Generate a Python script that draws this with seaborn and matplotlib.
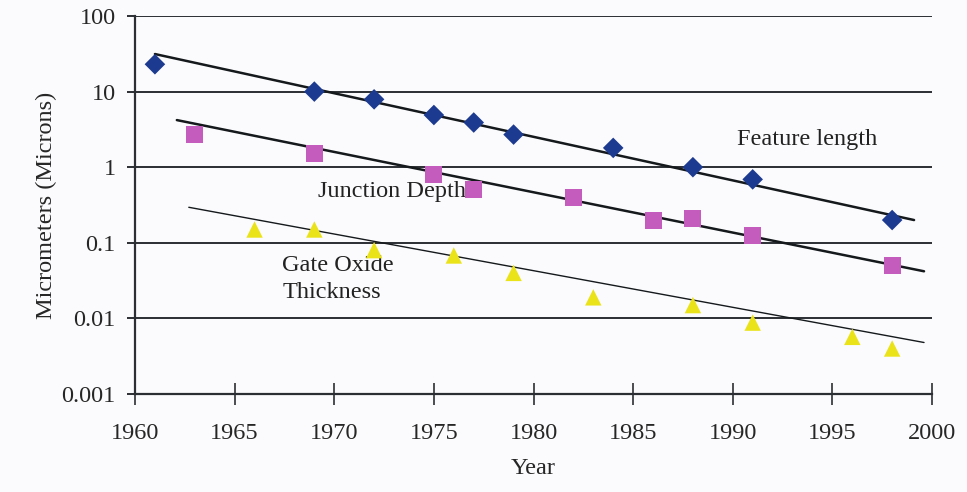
import numpy as np
import pandas as pd
import matplotlib
matplotlib.use("Agg")
import matplotlib.pyplot as plt
import seaborn as sns

# ---- data ----
feat_years = [1961, 1969, 1972, 1975, 1977, 1979, 1984, 1988, 1991, 1998]
feat_vals = [23, 10, 7.9, 4.9, 3.9, 2.7, 1.8, 1.0, 0.69, 0.2]

junc_years = [1963, 1969, 1975, 1977, 1982, 1986, 1988, 1991, 1998]
junc_vals = [2.7, 1.5, 0.8, 0.5, 0.4, 0.2, 0.21, 0.125, 0.05]

gate_years = [1966, 1969, 1972, 1976, 1979, 1983, 1988, 1991, 1996, 1998]
gate_vals = [0.15, 0.15, 0.08, 0.068, 0.04, 0.019, 0.015, 0.0088, 0.0057, 0.004]

# trend line endpoints (year, value)
feat_trend_years = [1961, 1999.1]
feat_trend_vals = [31.4, 0.2]
junc_trend_years = [1962.1, 1999.6]
junc_trend_vals = [4.2, 0.042]
gate_trend_years = [1962.7, 1999.6]
gate_trend_vals = [0.295, 0.0048]

x_ticks = [1960, 1965, 1970, 1975, 1980, 1985, 1990, 1995, 2000]
y_ticks = [0.001, 0.01, 0.1, 1, 10, 100]
y_tick_labels = ["0.001", "0.01", "0.1", "1", "10", "100"]

sns.set_theme(style="white")
plt.rcParams['font.family'] = ['Liberation Serif', 'DejaVu Serif']

W, H = 967, 492
fig = plt.figure(figsize=(W / 100, H / 100), dpi=100)
bg = '#fbfbfd'
fig.patch.set_facecolor(bg)
L, R, T, B = 135, 932, 16, 394
ax = fig.add_axes([L / W, (H - B) / H, (R - L) / W, (B - T) / H])
ax.set_facecolor(bg)

ax.set_yscale('log')
ax.set_xlim(1960, 2000)
ax.set_ylim(0.001, 100)

grid_c = '#2b2f33'
for yv in y_ticks[1:]:
    ax.axhline(yv, color=grid_c, lw=1.4, zorder=1)

# trend lines
for ty, tv, lw in [(feat_trend_years, feat_trend_vals, 1.8),
                   (junc_trend_years, junc_trend_vals, 1.8),
                   (gate_trend_years, gate_trend_vals, 1.0)]:
    sns.lineplot(x=ty, y=tv, ax=ax, color='#15191c', lw=lw, zorder=3,
                 estimator=None, sort=False)

sns.scatterplot(x=feat_years, y=feat_vals, ax=ax, marker='D', s=110,
                color='#1c3a90', edgecolor='none', zorder=4)
sns.scatterplot(x=junc_years, y=junc_vals, ax=ax, marker='s', s=150,
                color='#c35cbd', edgecolor='none', zorder=4)
sns.scatterplot(x=gate_years, y=gate_vals, ax=ax, marker='^', s=140,
                color='#ebe31a', edgecolor='none', zorder=4)

fs = 17.5
ax.text(1990.2, 2.3, "Feature length", fontsize=fs, ha='left', va='center', color='#222')
ax.text(1969.2, 0.47, "Junction Depth", fontsize=fs, ha='left', va='center', color='#222')
ax.text(1967.4, 0.033, "Gate Oxide\nThickness", fontsize=fs, ha='left', va='center',
        color='#222', linespacing=1.4)

ax.set_xticks(x_ticks)
ax.set_xticklabels([str(v) for v in x_ticks])
ax.set_yticks(y_ticks)
ax.set_yticklabels(y_tick_labels)
ax.yaxis.set_minor_locator(matplotlib.ticker.NullLocator())
ax.tick_params(axis='x', direction='inout', length=16, width=1.2, color=grid_c,
               labelsize=fs, pad=13, bottom=True)
ax.tick_params(axis='y', direction='out', length=6, width=1.4, color=grid_c,
               labelsize=fs, pad=8, left=True)

for s in ['top', 'right']:
    ax.spines[s].set_visible(False)
for s in ['left', 'bottom']:
    ax.spines[s].set_color(grid_c)
    ax.spines[s].set_linewidth(1.6)

ax.set_xlabel("Year", fontsize=fs, labelpad=10)
ax.set_ylabel("Micrometers (Microns)", fontsize=fs, labelpad=3)

fig.savefig("out.png", dpi=100, facecolor=bg)
